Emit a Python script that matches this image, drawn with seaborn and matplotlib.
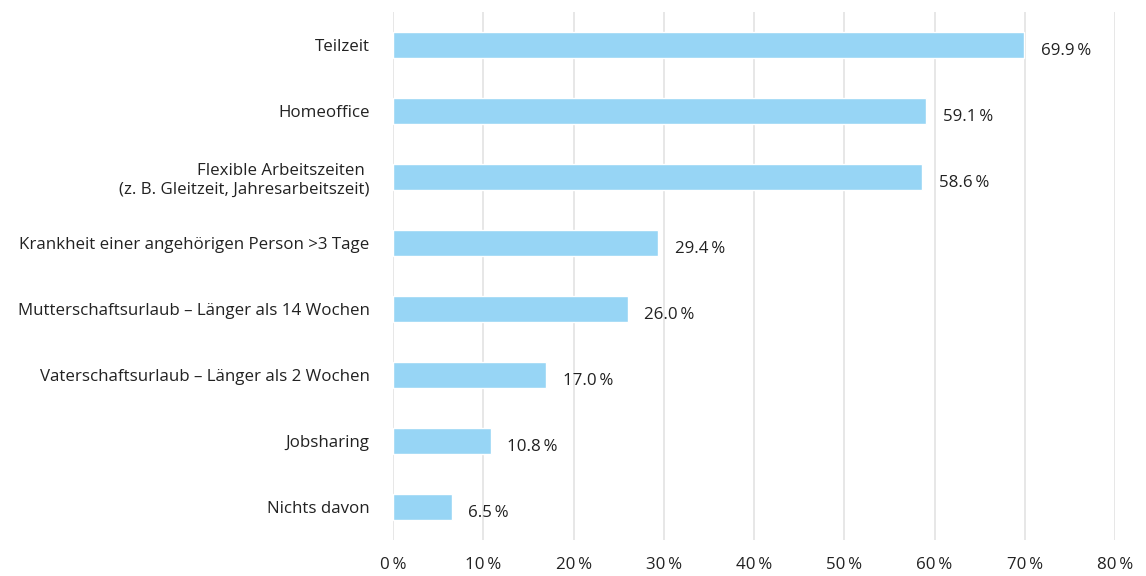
import pandas as pd
import seaborn as sns
import matplotlib.pyplot as plt
from matplotlib.ticker import FuncFormatter

# Arbeitsmodelle und Anteil in Prozent
categories = [
    "Teilzeit",
    "Homeoffice",
    "Flexible Arbeitszeiten \n(z. B. Gleitzeit, Jahresarbeitszeit)",
    "Krankheit einer angehörigen Person >3 Tage",
    "Mutterschaftsurlaub – Länger als 14 Wochen",
    "Vaterschaftsurlaub – Länger als 2 Wochen",
    "Jobsharing",
    "Nichts davon",
]
values = [69.9, 59.1, 58.6, 29.4, 26.0, 17.0, 10.8, 6.5]
x_ticks = [0, 10, 20, 30, 40, 50, 60, 70, 80]

df = pd.DataFrame({"kategorie": categories, "anteil": values})

sns.set_theme(style="white")
plt.rcParams["font.family"] = ["Open Sans", "DejaVu Sans"]

text_color = "#222222"
fs = 12.2
fig, ax = plt.subplots(figsize=(11.46, 5.76), dpi=100)
fig.subplots_adjust(left=0.343, right=0.973, top=0.979, bottom=0.0625)

sns.barplot(data=df, x="anteil", y="kategorie", color="#97D5F5",
            saturation=1, width=0.4, ax=ax, zorder=2)

ax.set_xlim(0, 80)
ax.set_ylim(7.5, -0.5)
ax.set_xticks(x_ticks)
ax.xaxis.set_major_formatter(FuncFormatter(lambda v, p: f"{v:.0f}\u2009%"))
ax.grid(axis="x", color="#E3E3E3", linewidth=1.2, zorder=0)
ax.grid(axis="y", visible=False)
for s in ax.spines.values():
    s.set_visible(False)
ax.tick_params(axis="x", length=0, pad=12, labelsize=fs, labelcolor=text_color)
ax.tick_params(axis="y", length=0, pad=17, labelsize=fs, labelcolor=text_color)
ax.set_xlabel("")
ax.set_ylabel("")

for i, v in enumerate(values):
    ax.annotate(f"{v:.1f}\u2009%", xy=(v, i), xytext=(12, -4),
                textcoords="offset points", va="center", ha="left",
                fontsize=fs, color=text_color)

fig.savefig("out.png", dpi=100)
